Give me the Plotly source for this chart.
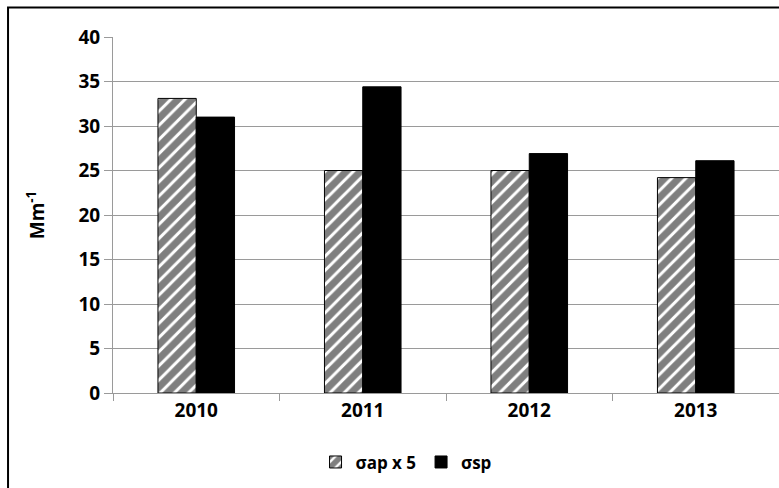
import plotly.graph_objects as go

years = ["2010", "2011", "2012", "2013"]
sigma_ap_x5 = [33.1, 25.0, 25.0, 24.2]
sigma_sp = [31.0, 34.4, 26.9, 26.1]
y_ticks = [0, 5, 10, 15, 20, 25, 30, 35, 40]

FONT = "Open Sans"
GRID = "#9a9a9a"

fig = go.Figure()
fig.add_trace(go.Bar(
    x=years, y=sigma_ap_x5, name="σap x 5",
    marker=dict(color="white", line=dict(color="black", width=1),
                pattern=dict(shape="/", fgcolor="black", bgcolor="white",
                             size=10, solidity=0.7)),
))
fig.add_trace(go.Bar(
    x=years, y=sigma_sp, name="σsp",
    marker=dict(color="black", line=dict(color="black", width=1)),
))

fig.update_layout(
    width=779, height=488,
    margin=dict(l=113, r=0, t=37, b=95),
    paper_bgcolor="white", plot_bgcolor="white",
    barmode="group", bargap=0.54, bargroupgap=0,
    font=dict(family=FONT, size=19, color="black", weight="bold"),
    showlegend=True,
    legend=dict(orientation="h", x=0.44, xanchor="center", y=-0.195, yanchor="middle",
                font=dict(family=FONT, size=17, weight="bold"),
                itemwidth=30, tracegroupgap=0),
    xaxis=dict(
        type="category", tickson="boundaries", ticks="outside", ticklen=7,
        tickcolor=GRID, showline=True, linecolor=GRID, linewidth=1,
        showgrid=False, tickfont=dict(family=FONT, size=19, weight="bold"),
    ),
    yaxis=dict(
        range=[0, 40], tickvals=y_ticks, ticks="outside", ticklen=8,
        tickcolor=GRID, showline=True, linecolor=GRID, linewidth=1,
        showgrid=True, gridcolor=GRID, gridwidth=1, zeroline=False,
        tickfont=dict(family=FONT, size=19, weight="bold"),
        title=dict(text="Mm<sup>-1</sup>", standoff=28,
                   font=dict(family=FONT, size=19, weight="bold")),
    ),
    shapes=[dict(type="rect", xref="paper", yref="paper",
                 x0=-0.1576, x1=1.05, y0=-0.4, y1=1.0829,
                 line=dict(color="black", width=2), fillcolor="rgba(0,0,0,0)",
                 layer="above")],
)

fig.write_html("out.html")
